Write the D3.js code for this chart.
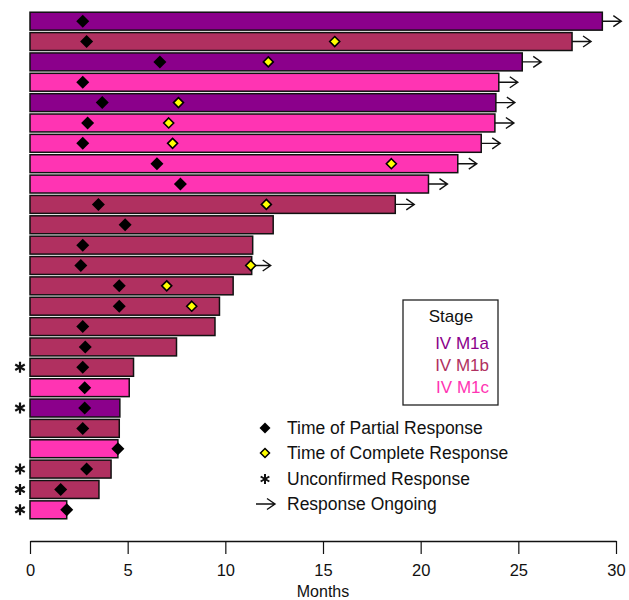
<!DOCTYPE html>
<html>
<head>
<meta charset="utf-8">
<script src="https://cdn.jsdelivr.net/npm/d3@7"></script>
<style>
  body { margin: 0; background: #fff; }
  svg { font-family: "Liberation Sans", Arial, sans-serif; }
</style>
</head>
<body>
<svg id="chart" width="629" height="600"></svg>
<script>
// one entry per patient, top to bottom
var stages = ["IV M1a", "IV M1b", "IV M1a", "IV M1c", "IV M1a", "IV M1c", "IV M1c", "IV M1c", "IV M1c",
    "IV M1b", "IV M1b", "IV M1b", "IV M1b", "IV M1b", "IV M1b", "IV M1b", "IV M1b", "IV M1b",
    "IV M1c", "IV M1a", "IV M1b", "IV M1c", "IV M1b", "IV M1b", "IV M1c"];
var durations = [29.3, 27.75, 25.2, 24.0, 23.85, 23.8, 23.1, 21.9, 20.4,
    18.7, 12.45, 11.4, 11.35, 10.4, 9.7, 9.47, 7.5, 5.3,
    5.08, 4.6, 4.57, 4.5, 4.15, 3.53, 1.88];
var partial = [2.7, 2.9, 6.65, 2.7, 3.7, 2.95, 2.7, 6.5, 7.7,
    3.5, 4.87, 2.7, 2.6, 4.57, 4.57, 2.7, 2.83, 2.7,
    2.8, 2.8, 2.7, 4.5, 2.9, 1.57, 1.88];
var complete = [null, 15.6, 12.2, null, 7.6, 7.1, 7.3, 18.5, null,
    12.1, null, null, 11.3, 7.0, 8.28, null, null, null,
    null, null, null, null, null, null, null];
var ongoing = [1, 1, 1, 1, 1, 1, 1, 1, 1, 1, 0, 0, 1, 0, 0, 0, 0, 0, 0, 0, 0, 0, 0, 0, 0];
var unconfirmed = [0, 0, 0, 0, 0, 0, 0, 0, 0, 0, 0, 0, 0, 0, 0, 0, 0, 1, 0, 1, 0, 0, 1, 1, 1];

var stageNames = ["IV M1a", "IV M1b", "IV M1c"];
var stageColors = ["#8B008B", "#B03060", "#FF34B3"];
var xTicks = [0, 5, 10, 15, 20, 25, 30];

var legendLabels = ["Time of Partial Response", "Time of Complete Response", "Unconfirmed Response", "Response Ongoing"];

var svg = d3.select("#chart");

var x = d3.scaleLinear().domain([0, 30]).range([30, 616]);
var y = d3.scaleBand().domain(d3.range(durations.length)).range([11, 520]).paddingInner(0.12).paddingOuter(0.06);
var color = d3.scaleOrdinal().domain(stageNames).range(stageColors);

var rows = durations.map(function (d, i) {
    return { i: i, dur: d, stage: stages[i], pr: partial[i], cr: complete[i], ong: ongoing[i], unc: unconfirmed[i] };
});

function cy(i) { return y(i) + y.bandwidth() / 2; }

function arrowPath(x0, x1, yy) {
    return "M" + x0 + "," + yy + "H" + x1 + "M" + (x1 - 8) + "," + (yy - 5.5) + "L" + x1 + "," + yy + "L" + (x1 - 8) + "," + (yy + 5.5);
}

// square diamond, r = half diagonal
function diamondPath(r) {
    return "M0," + (-r) + "L" + r + ",0L0," + r + "L" + (-r) + ",0Z";
}

// six-armed asterisk
function starPath(r) {
    var p = "";
    [90, 30, -30].forEach(function (a) {
        var dx = r * Math.cos(a * Math.PI / 180), dy = r * Math.sin(a * Math.PI / 180);
        p += "M" + (-dx) + "," + (-dy) + "L" + dx + "," + dy;
    });
    return p;
}

// bars
svg.append("g").selectAll("rect")
    .data(rows).enter().append("rect")
    .attr("x", x(0))
    .attr("y", d => y(d.i))
    .attr("width", d => x(d.dur) - x(0))
    .attr("height", y.bandwidth())
    .attr("fill", d => color(d.stage))
    .attr("stroke", "#111")
    .attr("stroke-width", 1.5);

// ongoing arrows
svg.append("g").selectAll("path")
    .data(rows.filter(d => d.ong)).enter().append("path")
    .attr("d", d => arrowPath(x(d.dur), x(d.dur) + 19, cy(d.i)))
    .attr("fill", "none")
    .attr("stroke", "#111")
    .attr("stroke-width", 1.4);

// partial response
svg.append("g").selectAll("path")
    .data(rows).enter().append("path")
    .attr("d", diamondPath(6.5))
    .attr("transform", d => "translate(" + x(d.pr) + "," + cy(d.i) + ")")
    .attr("fill", "#000");

// complete response
svg.append("g").selectAll("path")
    .data(rows.filter(d => d.cr != null)).enter().append("path")
    .attr("d", diamondPath(5))
    .attr("transform", d => "translate(" + x(d.cr) + "," + cy(d.i) + ")")
    .attr("fill", "#FFFF00")
    .attr("stroke", "#000")
    .attr("stroke-width", 1.6);

// unconfirmed stars
svg.append("g").selectAll("path")
    .data(rows.filter(d => d.unc)).enter().append("path")
    .attr("d", starPath(5.5))
    .attr("transform", d => "translate(20," + cy(d.i) + ")")
    .attr("stroke", "#111")
    .attr("stroke-width", 2.2);

// x axis
var axis = svg.append("g")
    .attr("transform", "translate(0,541)")
    .call(d3.axisBottom(x).tickValues(xTicks).tickSize(13).tickPadding(10).tickSizeOuter(0));
axis.select(".domain").attr("stroke", "#111").attr("stroke-width", 1.5);
axis.selectAll(".tick line").attr("stroke", "#111").attr("stroke-width", 1.2);
axis.selectAll(".tick text").attr("font-size", 16.5).attr("fill", "#111")
    .attr("font-family", "'Liberation Sans', Arial, sans-serif");

svg.append("text")
    .attr("x", x(15))
    .attr("y", 597)
    .attr("text-anchor", "middle")
    .attr("font-size", 16)
    .attr("fill", "#111")
    .text("Months");

// stage legend
var lg = svg.append("g");
lg.append("rect")
    .attr("x", 403).attr("y", 300)
    .attr("width", 95).attr("height", 105)
    .attr("fill", "#fff")
    .attr("stroke", "#222")
    .attr("stroke-width", 1.3);
lg.append("text")
    .attr("x", 451).attr("y", 322)
    .attr("text-anchor", "middle")
    .attr("font-size", 17)
    .attr("fill", "#111")
    .text("Stage");
lg.selectAll(".st")
    .data(stageNames).enter().append("text")
    .attr("class", "st")
    .attr("x", 489)
    .attr("y", (d, i) => 349 + i * 22)
    .attr("text-anchor", "end")
    .attr("font-size", 17)
    .attr("fill", d => color(d))
    .text(d => d);

// symbol legend
var sl = svg.append("g");
var ly = [428, 453, 479, 504];
sl.selectAll("text.lab")
    .data(legendLabels).enter().append("text")
    .attr("class", "lab")
    .attr("x", 287)
    .attr("y", (d, i) => ly[i] + 6)
    .attr("font-size", 17.5)
    .attr("fill", "#111")
    .text(d => d);
sl.append("path")
    .attr("d", diamondPath(5.5))
    .attr("transform", "translate(265," + ly[0] + ")")
    .attr("fill", "#000");
sl.append("path")
    .attr("d", diamondPath(4.5))
    .attr("transform", "translate(265," + ly[1] + ")")
    .attr("fill", "#FFFF00")
    .attr("stroke", "#000")
    .attr("stroke-width", 1.5);
sl.append("path")
    .attr("d", starPath(5))
    .attr("transform", "translate(265," + ly[2] + ")")
    .attr("stroke", "#111")
    .attr("stroke-width", 2);
sl.append("path")
    .attr("d", arrowPath(256, 275, ly[3]))
    .attr("fill", "none")
    .attr("stroke", "#111")
    .attr("stroke-width", 1.4);
</script>
</body>
</html>
